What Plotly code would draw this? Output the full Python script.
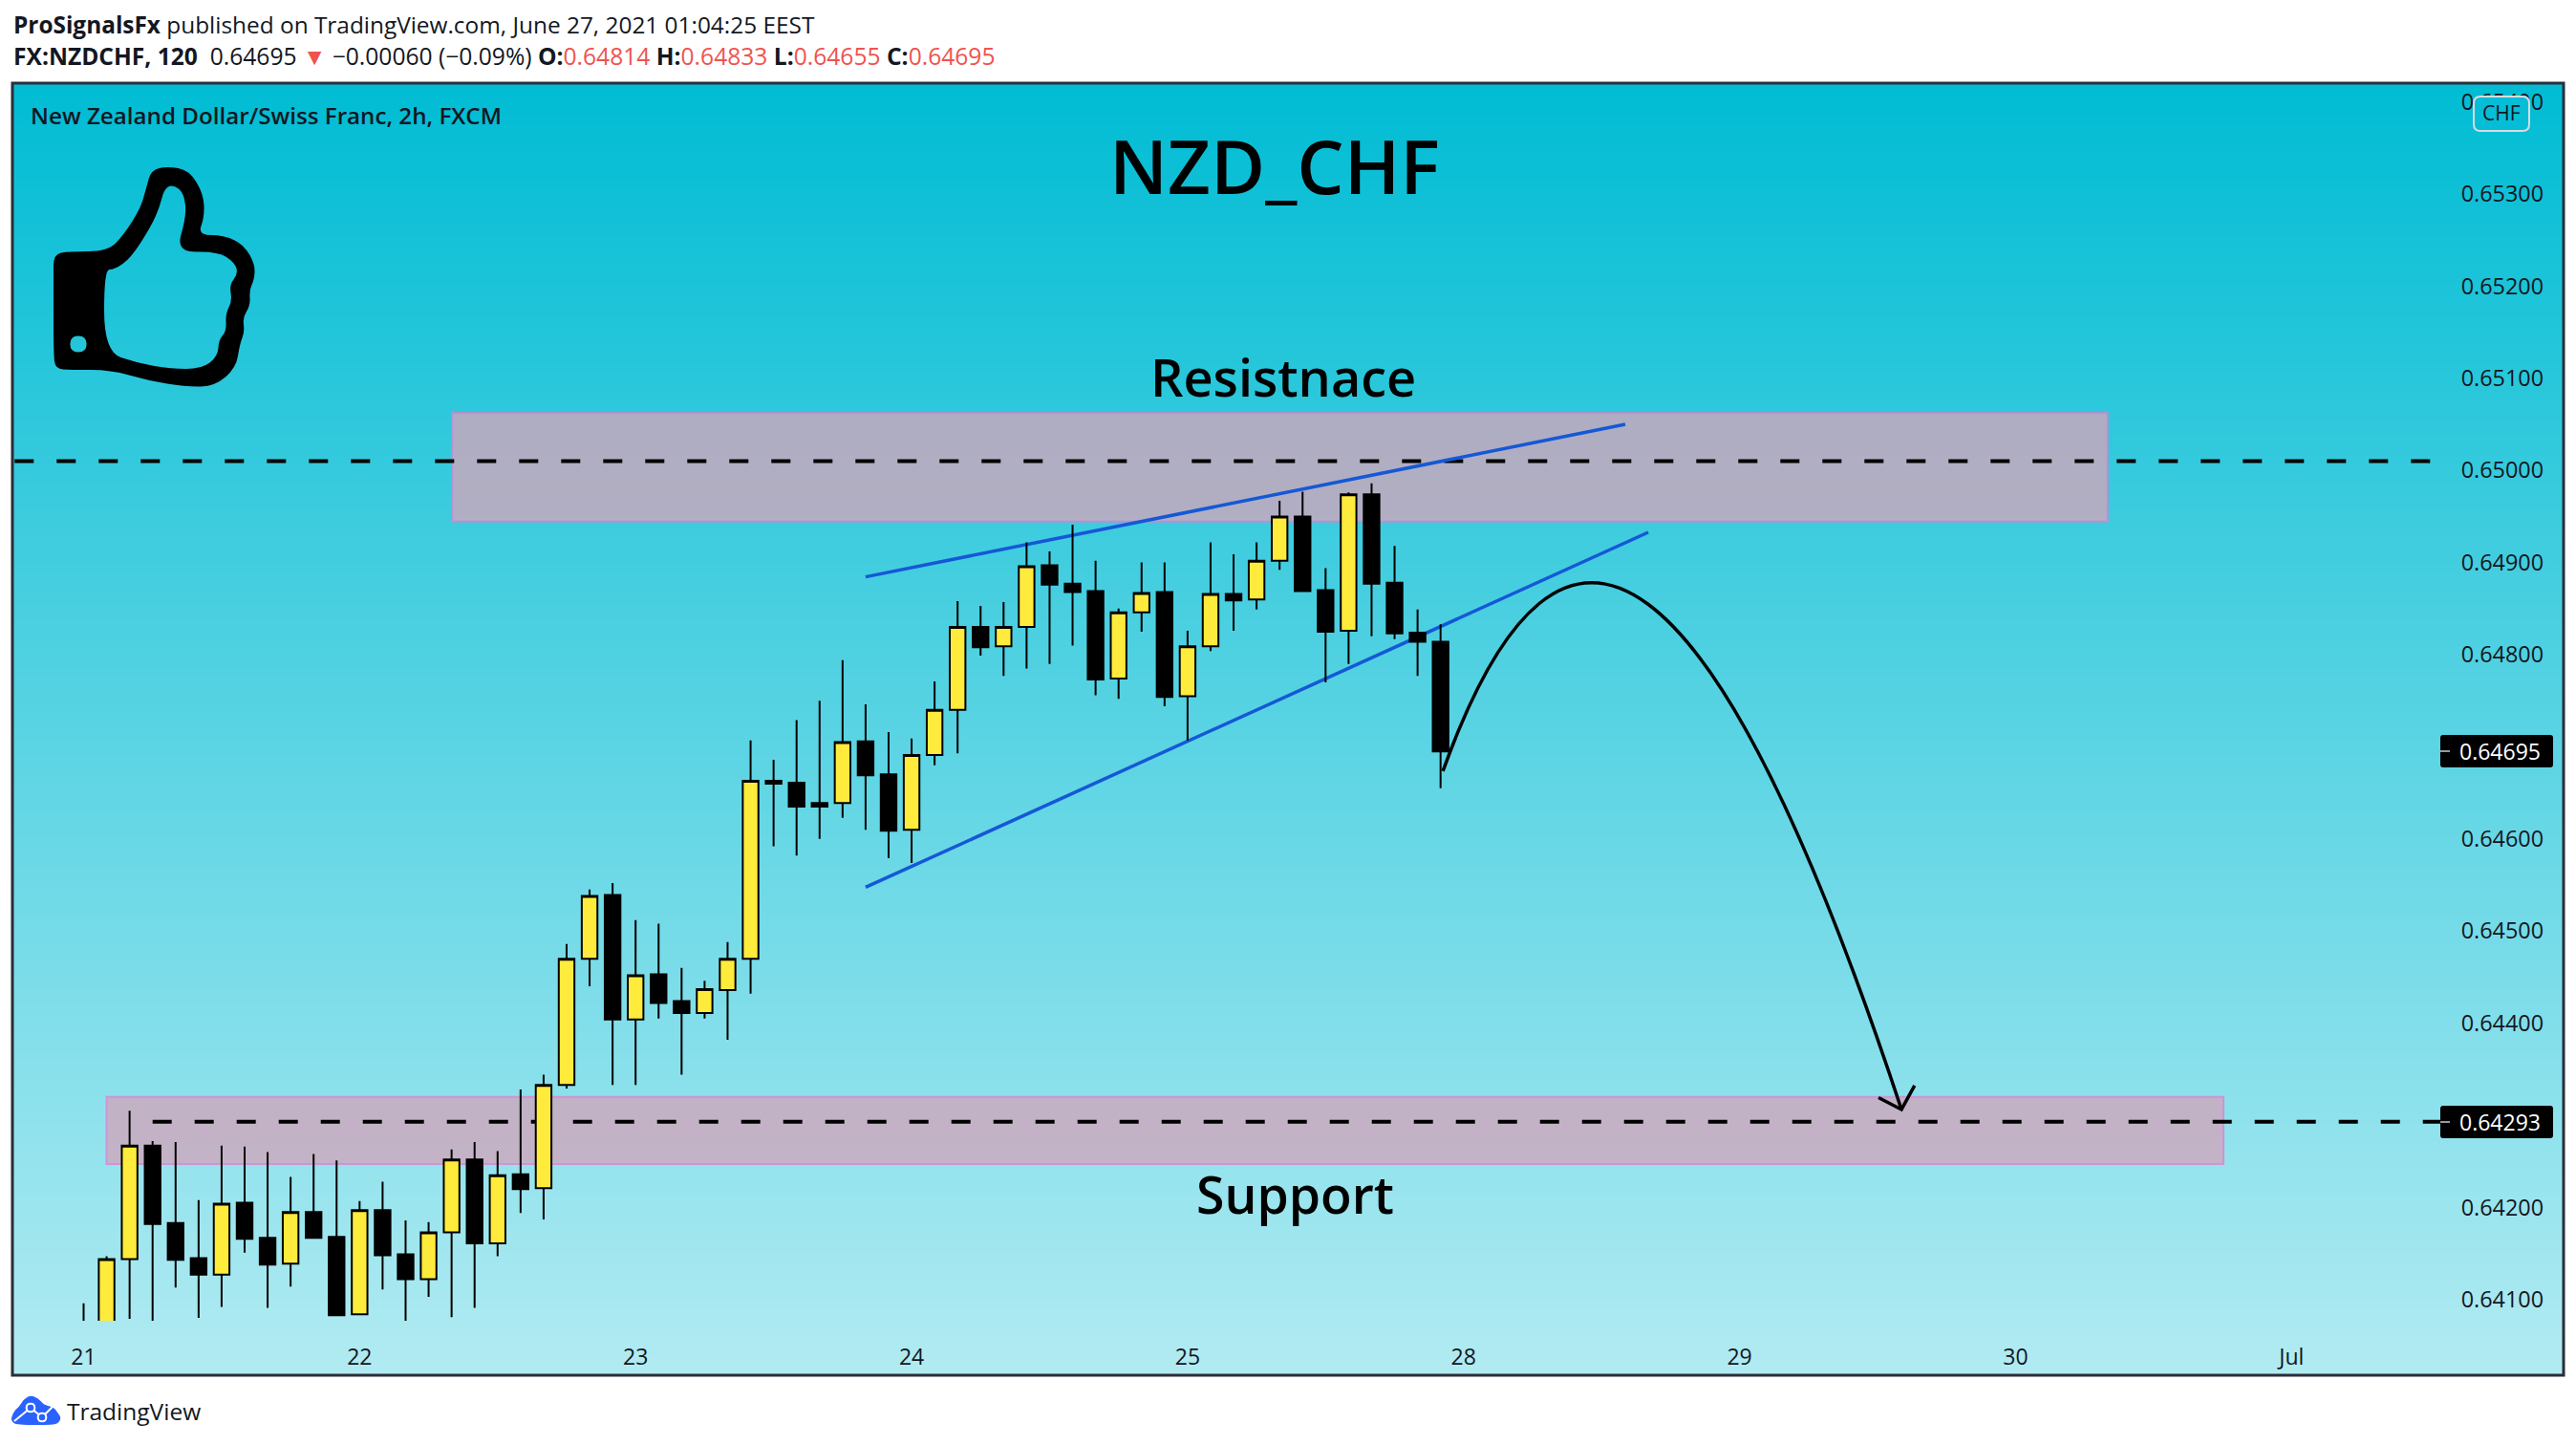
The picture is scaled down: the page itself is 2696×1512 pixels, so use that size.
import plotly.graph_objects as go

# ---------- data ----------
bar_index = list(range(60))
opens = [0.64040,0.64060,0.64144,0.64267,0.64183,0.64145,0.64127,0.64205,0.64167,0.64139,
         0.64195,0.64168,0.64084,0.64197,0.64149,0.64122,0.64173,0.64252,0.64161,0.64236,
         0.64221,0.64333,0.64470,0.64539,0.64404,0.64453,0.64424,0.64411,0.64436,0.64470,
         0.64663,0.64661,0.64639,0.64639,0.64706,0.64670,0.64610,0.64691,0.64740,0.64830,
         0.64809,0.64830,0.64897,0.64877,0.64869,0.64774,0.64846,0.64868,0.64755,0.64809,
         0.64866,0.64860,0.64902,0.64950,0.64870,0.64826,0.64974,0.64878,0.64824,0.64814]
highs = [0.64096,0.64147,0.64305,0.64272,0.64271,0.64208,0.64267,0.64266,0.64260,0.64233,
         0.64258,0.64251,0.64207,0.64228,0.64186,0.64184,0.64263,0.64271,0.64261,0.64328,
         0.64344,0.64486,0.64545,0.64552,0.64512,0.64508,0.64460,0.64446,0.64488,0.64707,
         0.64686,0.64729,0.64750,0.64794,0.64746,0.64716,0.64709,0.64771,0.64858,0.64853,
         0.64857,0.64922,0.64912,0.64941,0.64902,0.64850,0.64900,0.64900,0.64826,0.64922,
         0.64909,0.64922,0.64967,0.64977,0.64894,0.64976,0.64986,0.64918,0.64849,0.64833]
lows = [0.64010,0.64040,0.64079,0.64060,0.64113,0.64080,0.64092,0.64151,0.64091,0.64114,
        0.64167,0.64083,0.64083,0.64111,0.64060,0.64103,0.64081,0.64091,0.64147,0.64194,
        0.64187,0.64329,0.64440,0.64333,0.64333,0.64405,0.64344,0.64405,0.64382,0.64432,
        0.64592,0.64582,0.64600,0.64623,0.64610,0.64579,0.64574,0.64680,0.64693,0.64799,
        0.64777,0.64785,0.64790,0.64810,0.64756,0.64752,0.64825,0.64744,0.64707,0.64804,
        0.64826,0.64849,0.64892,0.64869,0.64770,0.64790,0.64820,0.64817,0.64777,0.64655]
closes = [0.64060,0.64144,0.64267,0.64182,0.64143,0.64127,0.64204,0.64166,0.64138,0.64195,
          0.64167,0.64083,0.64197,0.64148,0.64122,0.64173,0.64252,0.64161,0.64235,0.64220,
          0.64333,0.64470,0.64538,0.64404,0.64452,0.64422,0.64411,0.64437,0.64470,0.64663,
          0.64660,0.64635,0.64635,0.64705,0.64669,0.64609,0.64691,0.64740,0.64830,0.64808,
          0.64830,0.64896,0.64876,0.64868,0.64773,0.64846,0.64867,0.64754,0.64809,0.64866,
          0.64859,0.64902,0.64950,0.64869,0.64825,0.64974,0.64877,0.64823,0.64814,0.64695]

day_ticks = [0, 12, 24, 36, 48, 60, 72, 84, 96]
day_labels = ["21", "22", "23", "24", "25", "28", "29", "30", "Jul"]
price_ticks = [0.641,0.642,0.644,0.645,0.646,0.648,0.649,0.650,0.651,0.652,0.653,0.654]
price_labels = ["0.64100","0.64200","0.64400","0.64500","0.64600",
                "0.64800","0.64900","0.65000","0.65100","0.65200","0.65300","0.65400"]

resistance_x = [16.02, 88.0]
resistance_y = [0.649445, 0.650625]
support_x = [1.0, 93.04]
support_y = [0.642472, 0.643201]
res_line_x = [-3.0, 102.1]
res_line_y = [0.65010, 0.65010]
sup_line_x = [3.0, 102.5]
sup_line_y = [0.64293, 0.64293]
upper_x = [34.0, 67.03]
upper_y = [0.648844, 0.65050]
lower_x = [34.0, 68.03]
lower_y = [0.645475, 0.649328]
curve_start = [59.1, 0.646735]
curve_control = [66.95, 0.652201]
curve_end = [79.04, 0.643063]
head_x = [78.04, 79.04, 79.61]
head_y = [0.643192, 0.643063, 0.643323]

# ---------- layout constants (page pixels) ----------
W, H = 2696, 1512
PANEL = (13, 87, 2683, 1439)
MAIN_L, MAIN_R, MAIN_T, MAIN_B = 15, 2568, 88, 1382
X_RANGE = [-3.012, 103.05]
Y_RANGE = [0.64077, 0.654193]
TXT = "#131722"
RED = "#EF5350"
FONT = "Open Sans"


def smooth(points):
    n = len(points)
    mid = lambda a, b: ((a[0] + b[0]) / 2, (a[1] + b[1]) / 2)
    s = mid(points[-1], points[0])
    d = f"M{s[0]:.1f},{s[1]:.1f}"
    for i in range(n):
        m = mid(points[i], points[(i + 1) % n])
        d += f" Q{points[i][0]},{points[i][1]} {m[0]:.1f},{m[1]:.1f}"
    return d + " Z"


def circle(cx, cy, r):
    k = r * 1.08
    return smooth([(cx - k, cy - k), (cx + k, cy - k), (cx + k, cy + k), (cx - k, cy + k)])


def rrect(x0, y0, x1, y1, r):
    return (f"M{x0+r},{y0} L{x1-r},{y0} Q{x1},{y0} {x1},{y0+r} L{x1},{y1-r} Q{x1},{y1} {x1-r},{y1} "
            f"L{x0+r},{y1} Q{x0},{y1} {x0},{y1-r} L{x0},{y0+r} Q{x0},{y0} {x0+r},{y0} Z")


thumb_outer = [(56,290),(56,266),(72,263),(113,263),(130,245),(147,218),(153,197),(158,178),(175,174),(198,178),(213,203),
               (214,227),(207,246),(235,246),(256,257),(267,277),(266,293),(261,303),(262,320),
               (254,332),(256,347),(251,360),(247,385),(225,404),(196,405),(154,398),(116,387),
               (74,387),(58,386),(56,370)]
thumb_inner = [(109,282),(120,282),(137,270),(158,237),(167,217),(172,197),(182,193),(193,203),
               (195,227),(184,264),(228,263),(246,275),(249,287),(240,298),(243,315),(236,328),
               (237,347),(229,355),(228,373),(211,386),(179,386),(144,380),(109,368)]
thumb_path = smooth(thumb_outer) + " " + smooth(thumb_inner) + " " + circle(82, 360, 8)
cloud = [(12,1483),(15,1476),(20,1472),(25,1464),(32,1460),(40,1463),(45,1469),(50,1471),(57,1473),
         (60,1478),(64,1483),(62,1488),(57,1491),(17,1491),(12,1487)]

fig = go.Figure()

# background gradient, exactly filling the panel
fig.add_trace(go.Heatmap(x=[PANEL[0], PANEL[2]], y=[PANEL[1], PANEL[3]], z=[[0, 0], [1, 1]],
                         zsmooth="best", showscale=False, hoverinfo="skip",
                         colorscale=[[0, "#00BCD4"], [1, "#B2EBF2"]], xaxis="x", yaxis="y"))

# lines under the candles
fig.add_trace(go.Scatter(x=res_line_x, y=res_line_y, mode="lines", xaxis="x2", yaxis="y2",
                         line=dict(color="black", width=4, dash="20px,24px")))
fig.add_trace(go.Scatter(x=sup_line_x, y=sup_line_y, mode="lines", xaxis="x2", yaxis="y2",
                         line=dict(color="black", width=4, dash="20px,24px")))
fig.add_trace(go.Scatter(x=upper_x, y=upper_y, mode="lines", xaxis="x2", yaxis="y2",
                         line=dict(color="#1558D6", width=3.5)))
fig.add_trace(go.Scatter(x=lower_x, y=lower_y, mode="lines", xaxis="x2", yaxis="y2",
                         line=dict(color="#1558D6", width=3.5)))

# candles and arrow head
fig.add_trace(go.Candlestick(x=bar_index, open=opens, high=highs, low=lows, close=closes,
                             xaxis="x3", yaxis="y3", whiskerwidth=0,
                             increasing=dict(fillcolor="#FFEB3B", line=dict(color="black", width=2)),
                             decreasing=dict(fillcolor="black", line=dict(color="black", width=2))))
fig.add_trace(go.Scatter(x=head_x, y=head_y, mode="lines", xaxis="x3", yaxis="y3",
                         line=dict(color="black", width=3.5)))
# page-pixel axes for labels and icons
fig.add_trace(go.Scatter(x=[None], y=[None], mode="markers", xaxis="x4", yaxis="y4", hoverinfo="skip"))

dom_x = [MAIN_L / W, MAIN_R / W]
dom_y = [(H - MAIN_B) / H, (H - MAIN_T) / H]
hidden = dict(visible=False, showgrid=False, zeroline=False)


def tag(y, label):
    return dict(x=2616, y=y, text=label, xref="x4", yref="y4", showarrow=False,
                font=dict(family=FONT, size=23, color="white"))


def label(x, y, text, size, color=TXT, anchor="left", weight=None):
    f = dict(family=FONT, size=size, color=color)
    if weight:
        f["weight"] = weight
    return dict(x=x, y=y, text=text, xref="x4", yref="y4", xanchor=anchor, yanchor="middle",
                showarrow=False, font=f)


line2 = ("<b>FX:NZDCHF, 120</b>  0.64695 <span style='color:%s'>▼</span> −0.00060 (−0.09%%) "
         "<b>O:</b><span style='color:%s'>0.64814</span> <b>H:</b><span style='color:%s'>0.64833</span> "
         "<b>L:</b><span style='color:%s'>0.64655</span> <b>C:</b><span style='color:%s'>0.64695</span>"
         % (RED, RED, RED, RED, RED))

P = dict(xref="x4", yref="y4", layer="above")
shapes = [
    dict(type="rect", xref="x2", yref="y2", layer="below",
         x0=resistance_x[0], x1=resistance_x[1], y0=resistance_y[0], y1=resistance_y[1],
         fillcolor="rgba(208,166,187,0.8)", line=dict(color="rgba(190,140,215,0.9)", width=2)),
    dict(type="rect", xref="x2", yref="y2", layer="below",
         x0=support_x[0], x1=support_x[1], y0=support_y[0], y1=support_y[1],
         fillcolor="rgba(208,166,187,0.8)", line=dict(color="rgba(206,147,216,1)", width=2)),
    dict(type="path", xref="x3", yref="y3", layer="above",
         path=(f"M{curve_start[0]},{curve_start[1]} Q{curve_control[0]},{curve_control[1]} "
               f"{curve_end[0]},{curve_end[1]}"),
         line=dict(color="black", width=3.5)),
    dict(type="rect", x0=PANEL[0], x1=PANEL[2], y0=PANEL[1], y1=PANEL[3],
         line=dict(color="#2A2E39", width=3), **P),
    dict(type="path", path=thumb_path, fillcolor="black", line=dict(width=0), **P),
    dict(type="path", path=rrect(2589, 101, 2647, 137, 7), fillcolor="#05BDD6",
         line=dict(color="#D6DCDE", width=2), **P),
    dict(type="path", path=rrect(2554, 769, 2672, 803, 3), fillcolor="black", line=dict(width=0), **P),
    dict(type="path", path=rrect(2554, 1157, 2672, 1191, 3), fillcolor="black", line=dict(width=0), **P),
    dict(type="line", x0=2554, x1=2564, y0=786, y1=786, line=dict(color="#9598A1", width=2), **P),
    dict(type="line", x0=2554, x1=2564, y0=1174, y1=1174, line=dict(color="#9598A1", width=2), **P),
    dict(type="path", path=smooth(cloud), fillcolor="#2962FF", line=dict(width=0), **P),
    dict(type="path", path="M15,1487 L32,1473 L44,1483 L56,1471", line=dict(color="white", width=2), **P),
    dict(type="path", path=circle(32, 1473, 4), fillcolor="#2962FF", line=dict(color="white", width=2), **P),
    dict(type="path", path=circle(44, 1483, 4), fillcolor="#2962FF", line=dict(color="white", width=2), **P),
]

annotations = [
    label(12, 25, "<b>ProSignalsFx</b> published on TradingView.com, June 27, 2021 01:04:25 EEST", 24.4),
    label(12, 58, line2, 24.6),
    label(30, 120, "New Zealand Dollar/Swiss Franc, 2h, FXCM", 24.2, weight=600),
    label(1334, 173, "NZD_CHF", 78, color="black", anchor="center", weight=600),
    label(1343, 394, "Resistnace", 54, color="black", anchor="center", weight=600),
    label(1355, 1249, "Support", 53.5, color="black", anchor="center", weight=600),
    label(2618, 118, "CHF", 21, anchor="center"),
    label(68, 1476, "TradingView", 24.5),
    tag(786, "0.64695"),
    tag(1174, "0.64293"),
]

fig.update_layout(
    width=W, height=H, margin=dict(l=0, r=0, t=0, b=0, pad=0),
    paper_bgcolor="white", plot_bgcolor="rgba(0,0,0,0)",
    showlegend=False, boxgap=0.2, boxgroupgap=0.15,
    xaxis=dict(domain=[PANEL[0] / W, PANEL[2] / W], range=[PANEL[0], PANEL[2]], anchor="y", **hidden),
    yaxis=dict(domain=[(H - PANEL[3]) / H, (H - PANEL[1]) / H], range=[PANEL[3], PANEL[1]], anchor="x", **hidden),
    xaxis2=dict(domain=dom_x, range=X_RANGE, anchor="y2", **hidden),
    yaxis2=dict(domain=dom_y, range=Y_RANGE, anchor="x2", **hidden),
    xaxis3=dict(domain=dom_x, range=X_RANGE, anchor="y3", showgrid=False, zeroline=False, showline=False,
                tickmode="array", tickvals=day_ticks, ticktext=day_labels, ticks="outside", ticklen=17,
                tickcolor="rgba(0,0,0,0)", tickfont=dict(family=FONT, size=23, color=TXT),
                rangeslider=dict(visible=False)),
    yaxis3=dict(domain=dom_y, range=Y_RANGE, anchor="x3", side="right", showgrid=False, zeroline=False,
                showline=False, tickmode="array", tickvals=price_ticks, ticktext=price_labels,
                ticks="outside", ticklen=2, tickcolor="rgba(0,0,0,0)",
                tickfont=dict(family=FONT, size=23.4, color=TXT)),
    xaxis4=dict(domain=[0, 1], range=[0, W], anchor="y4", **hidden),
    yaxis4=dict(domain=[0, 1], range=[H, 0], anchor="x4", **hidden),
    shapes=shapes, annotations=annotations,
)

fig.write_html("out.html", config=dict(displayModeBar=False),
               post_script="document.body.style.margin='0';document.body.style.overflow='hidden';")
